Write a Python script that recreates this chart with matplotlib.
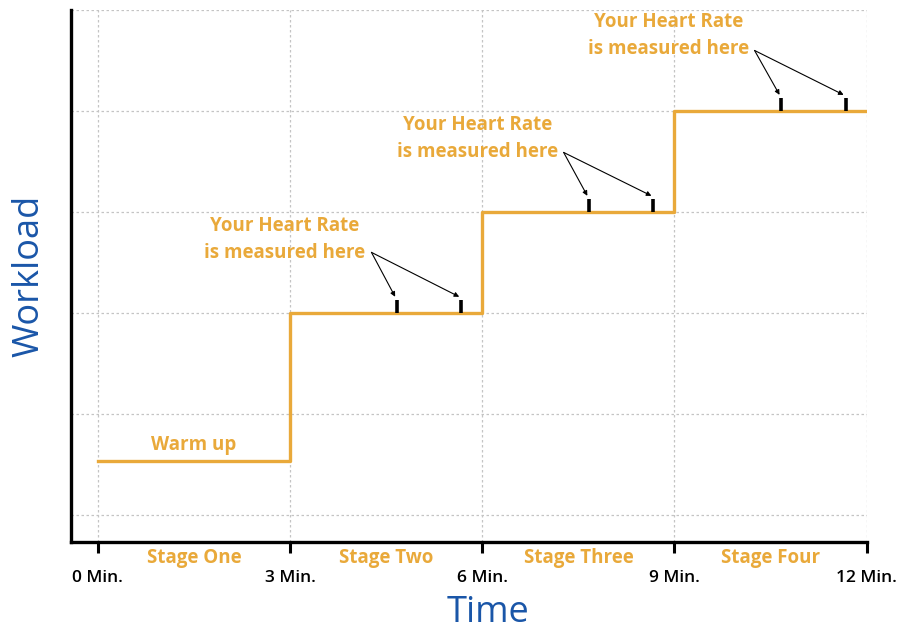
import numpy as np
import matplotlib.pyplot as plt
import matplotlib.transforms as mtransforms

# step test profile
times = [0, 3, 6, 9, 12]
levels = [0.53, 2, 3, 4]
tick_labels = ['0 Min.', '3 Min.', '6 Min.', '9 Min.', '12 Min.']
stage_names = ['Stage One', 'Stage Two', 'Stage Three', 'Stage Four']
stage_mid = [1.5, 4.5, 7.5, 10.5]

# heart rate measurement points (stages 2-4)
hr_times = [[4.67, 5.67], [7.67, 8.67], [10.67, 11.67]]
hr_levels = [2, 3, 4]
note_xy = [(2.91, 2.73), (5.92, 3.73), (8.91, 4.75)]
note_arrow_start = [(4.27, 2.6), (7.27, 3.59), (10.25, 4.6)]

orange = '#E9A93A'
blue = '#1A56A8'
plt.rcParams['font.family'] = ['Open Sans', 'DejaVu Sans']

fig = plt.figure(figsize=(9.22, 6.3), dpi=100)
ax = fig.add_axes([0.077, 0.140, 0.863, 0.844])

ax.step(times, levels + [levels[-1]], where='post', color=orange, lw=2.4, zorder=3)

bar_h = 0.13
for xs, lv, txt, st in zip(hr_times, hr_levels, note_xy, note_arrow_start):
    ax.vlines(xs, lv, lv + bar_h, color='black', lw=2.6, zorder=4)
    ax.text(txt[0], txt[1], 'Your Heart Rate\nis measured here', color=orange,
            fontsize=13.5, fontweight='bold', ha='center', va='center', linespacing=1.45)
    for x in xs:
        ax.annotate('', xy=(x - 0.03, lv + bar_h + 0.03), xytext=st,
                    arrowprops=dict(arrowstyle='-|>', color='black', lw=0.8,
                                    mutation_scale=7, shrinkA=0, shrinkB=0))

ax.text(1.5, 0.53 + 0.16, 'Warm up', color=orange, fontsize=13.5,
        fontweight='bold', ha='center', va='center')

trans = mtransforms.blended_transform_factory(ax.transData, ax.transAxes)
for xm, name in zip(stage_mid, stage_names):
    ax.text(xm, -0.03, name, transform=trans, color=orange, fontsize=13.5,
            fontweight='bold', ha='center', va='center')

ax.set_xlim(-0.42, 12)
ax.set_ylim(-0.267, 5)
ax.set_xticks(times)
ax.set_xticklabels(tick_labels, fontsize=12.5, fontweight='semibold')
ax.set_yticks(np.arange(0, 6))
ax.set_yticklabels([])
ax.tick_params(axis='x', length=8, width=2.2, pad=12, colors='black')
ax.tick_params(axis='y', length=0)

ax.grid(True, color='#c4c4c4', linestyle=(0, (2, 2)), lw=0.9)
ax.set_axisbelow(True)

for s in ['top', 'right']:
    ax.spines[s].set_visible(False)
for s in ['left', 'bottom']:
    ax.spines[s].set_linewidth(2.4)
    ax.spines[s].set_color('black')

ax.set_xlabel('Time', fontsize=26, color=blue, labelpad=0)
ax.xaxis.set_label_coords(0.524, -0.1)
ax.set_ylabel('Workload', fontsize=26, color=blue)
ax.yaxis.set_label_coords(-0.029, 0.5)

fig.savefig('out.png', dpi=100)
